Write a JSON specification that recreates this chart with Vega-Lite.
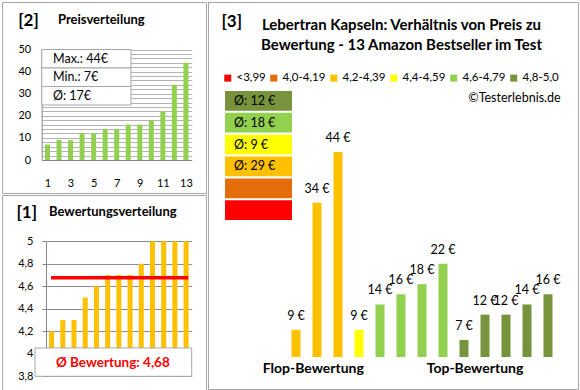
{
  "$schema": "https://vega.github.io/schema/vega-lite/v6.json",
  "padding": {"left": 1, "top": 1, "right": 0, "bottom": 0},
  "background": "white",
  "config": {
    "font": "Lato",
    "locale": {"number": {"decimal": ",", "thousands": ".", "grouping": [3], "currency": ["", "\u00a0€"]}},
    "view": {"stroke": "#a6a6a6", "strokeWidth": 1},
    "scale": {"continuousPadding": 0},
    "axis": {"labelFont": "Lato", "titleFont": "Lato", "labelColor": "#000000", "titleColor": "#000000", "labelFontSize": 11},
    "title": {"color": "#000000", "font": "Lato"},
    "legend": {"labelFont": "Lato"},
    "text": {"font": "Lato", "color": "#000000"}
  },
  "datasets": {
    "preise": [
      {"nr": 1, "preis": 7}, {"nr": 2, "preis": 9}, {"nr": 3, "preis": 9}, {"nr": 4, "preis": 12},
      {"nr": 5, "preis": 12}, {"nr": 6, "preis": 14}, {"nr": 7, "preis": 14}, {"nr": 8, "preis": 16},
      {"nr": 9, "preis": 16}, {"nr": 10, "preis": 18}, {"nr": 11, "preis": 22}, {"nr": 12, "preis": 34},
      {"nr": 13, "preis": 44}
    ],
    "bewertungen": [
      {"nr": 1, "bewertung": 4.2}, {"nr": 2, "bewertung": 4.3}, {"nr": 3, "bewertung": 4.3}, {"nr": 4, "bewertung": 4.5},
      {"nr": 5, "bewertung": 4.6}, {"nr": 6, "bewertung": 4.7}, {"nr": 7, "bewertung": 4.7}, {"nr": 8, "bewertung": 4.7},
      {"nr": 9, "bewertung": 4.8}, {"nr": 10, "bewertung": 5.0}, {"nr": 11, "bewertung": 5.0}, {"nr": 12, "bewertung": 5.0},
      {"nr": 13, "bewertung": 5.0}
    ],
    "produkte": [
      {"nr": 1, "preis": 9, "bewertung": 4.2, "klasse": "4,2-4,39"},
      {"nr": 2, "preis": 34, "bewertung": 4.3, "klasse": "4,2-4,39"},
      {"nr": 3, "preis": 44, "bewertung": 4.3, "klasse": "4,2-4,39"},
      {"nr": 4, "preis": 9, "bewertung": 4.5, "klasse": "4,4-4,59"},
      {"nr": 5, "preis": 14, "bewertung": 4.6, "klasse": "4,6-4,79"},
      {"nr": 6, "preis": 16, "bewertung": 4.7, "klasse": "4,6-4,79"},
      {"nr": 7, "preis": 18, "bewertung": 4.7, "klasse": "4,6-4,79"},
      {"nr": 8, "preis": 22, "bewertung": 4.7, "klasse": "4,6-4,79"},
      {"nr": 9, "preis": 7, "bewertung": 4.8, "klasse": "4,8-5,0"},
      {"nr": 10, "preis": 12, "bewertung": 5.0, "klasse": "4,8-5,0"},
      {"nr": 11, "preis": 12, "bewertung": 5.0, "klasse": "4,8-5,0"},
      {"nr": 12, "preis": 14, "bewertung": 5.0, "klasse": "4,8-5,0"},
      {"nr": 13, "preis": 16, "bewertung": 5.0, "klasse": "4,8-5,0"}
    ],
    "statistik": [
      {"stat": "max", "text": "Max.: 44€"},
      {"stat": "min", "text": "Min.: 7€"},
      {"stat": "avg", "text": "Ø: 17€"}
    ],
    "schnitt": [{"text": "Ø Bewertung: 4,68"}],
    "klassen": [
      {"klasse": "4,8-5,0", "text": "Ø: 12 €"},
      {"klasse": "4,6-4,79", "text": "Ø: 18 €"},
      {"klasse": "4,4-4,59", "text": "Ø: 9 €"},
      {"klasse": "4,2-4,39", "text": "Ø: 29 €"},
      {"klasse": "4,0-4,19", "text": ""},
      {"klasse": "<3,99", "text": ""}
    ],
    "quelle": [{"text": "©Testerlebnis.de"}]
  },
  "spacing": 0,
  "resolve": {"scale": {"color": "independent"}, "legend": {"color": "independent"}},
  "hconcat": [
    {
      "spacing": 0,
      "vconcat": [
        {
          "width": 204,
          "height": 191,
          "title": {"text": "Preisverteilung", "anchor": "start", "frame": "group", "dx": 56, "offset": -25, "fontSize": 13, "fontWeight": "bold"},
          "resolve": {"scale": {"y": "independent"}},
          "layer": [
            {
              "data": {"name": "preise"},
              "mark": {"type": "bar", "color": "#92D050", "size": 5},
              "encoding": {
                "x": {"field": "nr", "type": "quantitative",
                  "scale": {"domain": [0.5, 13.5], "range": [39.7, 189.7], "nice": false, "zero": false, "padding": 0},
                  "axis": {"orient": "bottom", "offset": -33, "values": [1, 3, 5, 7, 9, 11, 13], "tickCount": 100, "format": "d", "grid": false, "ticks": false, "tickSize": 0,
                    "domainColor": "#868686", "labelPadding": 17, "labelFlush": false, "labelOverlap": false, "title": null}},
                "y": {"field": "preis", "type": "quantitative",
                  "scale": {"domain": [0, 50], "range": [158, 47.5], "nice": false, "zero": false, "padding": 0},
                  "axis": {"orient": "left", "offset": -39.7, "tickCount": 100, "format": "d",
                    "values": [0, 2, 4, 6, 8, 10, 12, 14, 16, 18, 20, 22, 24, 26, 28, 30, 32, 34, 36, 38, 40, 42, 44, 46, 48, 50],
                    "labelExpr": "datum.value % 10 === 0 ? datum.label : ''", "labelOverlap": false,
                    "grid": true, "gridColor": "#b4b4b4", "domainColor": "#868686", "ticks": false, "tickSize": 0, "labelPadding": 11,
                    "title": "[2]", "titleAngle": 0, "titleX": -24, "titleY": 10, "titleAlign": "left", "titleBaseline": "top",
                    "titleFontSize": 17, "titleFontWeight": "bold"}}
              }
            },
            {
              "data": {"name": "statistik"},
              "mark": {"type": "rect", "fill": "white", "stroke": "#a6a6a6", "strokeWidth": 1},
              "encoding": {
                "x": {"datum": 0.5, "type": "quantitative"},
                "x2": {"datum": 8.24},
                "y": {"field": "stat", "type": "nominal", "axis": null,
                  "scale": {"type": "band", "domain": ["max", "min", "avg"], "range": [47.5, 103], "paddingInner": 0, "paddingOuter": 0}}
              }
            },
            {
              "data": {"name": "statistik"},
              "mark": {"type": "text", "align": "left", "baseline": "middle", "fontSize": 12.5},
              "encoding": {
                "x": {"datum": 1.48, "type": "quantitative"},
                "y": {"field": "stat", "type": "nominal", "axis": null,
                  "scale": {"type": "band", "domain": ["max", "min", "avg"], "range": [47.5, 103], "paddingInner": 0, "paddingOuter": 0}},
                "text": {"field": "text"}
              }
            }
          ]
        },
        {
          "width": 204,
          "height": 196,
          "title": {"text": "Bewertungsverteilung", "anchor": "start", "frame": "group", "dx": 47, "offset": -24, "fontSize": 13, "fontWeight": "bold"},
          "layer": [
            {
              "data": {"name": "bewertungen"},
              "mark": {"type": "bar", "color": "#FFC000", "size": 5},
              "encoding": {
                "x": {"field": "nr", "type": "quantitative", "axis": null,
                  "scale": {"domain": [0.5, 13.5], "range": [44, 189.7], "nice": false, "zero": false, "padding": 0}},
                "y": {"field": "bewertung", "type": "quantitative",
                  "scale": {"domain": [3.8, 5], "range": [181.3, 46.3], "nice": false, "zero": false, "padding": 0},
                  "axis": {"orient": "left", "offset": -44, "values": [3.8, 4, 4.2, 4.4, 4.6, 4.8, 5], "tickCount": 100, "format": ".1~f",
                    "grid": true, "gridColor": "#8c8c8c", "domainColor": "#868686", "ticks": true, "tickSize": 4, "tickColor": "#868686",
                    "labelPadding": 9, "labelOverlap": false,
                    "title": "[1]", "titleAngle": 0, "titleX": -30, "titleY": 9, "titleAlign": "left", "titleBaseline": "top",
                    "titleFontSize": 17, "titleFontWeight": "bold"}},
                "y2": {"datum": 3.8}
              }
            },
            {
              "data": {"name": "bewertungen"},
              "transform": [{"aggregate": [{"op": "mean", "field": "bewertung", "as": "schnitt"}]}],
              "mark": {"type": "rule", "color": "#FF0000", "strokeWidth": 3.5},
              "encoding": {
                "x": {"datum": 0.95, "type": "quantitative"},
                "x2": {"datum": 13.2},
                "y": {"field": "schnitt", "type": "quantitative"}
              }
            },
            {
              "data": {"name": "schnitt"},
              "mark": {"type": "rect", "fill": "white", "stroke": "#a6a6a6", "strokeWidth": 1},
              "encoding": {
                "x": {"datum": -0.48, "type": "quantitative"},
                "x2": {"datum": 13.5},
                "y": {"datum": 4.052, "type": "quantitative"},
                "y2": {"datum": 3.8}
              }
            },
            {
              "data": {"name": "schnitt"},
              "mark": {"type": "text", "align": "center", "baseline": "middle", "fontSize": 13.5, "fontWeight": "bold", "color": "#FF0000"},
              "encoding": {
                "x": {"datum": 6.46, "type": "quantitative"},
                "y": {"datum": 3.918, "type": "quantitative"},
                "text": {"field": "text"}
              }
            }
          ]
        }
      ]
    },
    {
      "width": 370,
      "height": 387,
      "title": {"text": ["Lebertran Kapseln: Verhältnis von Preis zu", "Bewertung - 13 Amazon Bestseller im Test"], "anchor": "middle", "frame": "group", "dx": 8.5, "offset": -51, "fontSize": 15, "fontWeight": "bold", "lineHeight": 20},
      "resolve": {"scale": {"y": "independent"}},
      "layer": [
        {
          "data": {"name": "klassen"},
          "mark": {"type": "rect"},
          "encoding": {
            "x": {"datum": -2.38, "type": "quantitative"},
            "x2": {"datum": 0.81},
            "y": {"field": "klasse", "type": "nominal", "axis": null,
              "scale": {"type": "band", "domain": ["4,8-5,0", "4,6-4,79", "4,4-4,59", "4,2-4,39", "4,0-4,19", "<3,99"], "range": [89, 218], "paddingInner": 0.1, "paddingOuter": 0}},
            "color": {"field": "klasse", "type": "nominal",
              "scale": {"domain": ["<3,99", "4,0-4,19", "4,2-4,39", "4,4-4,59", "4,6-4,79", "4,8-5,0"], "range": ["#FF0000", "#E46C0A", "#FFC000", "#FFFF00", "#92D050", "#77933C"]}}
          }
        },
        {
          "data": {"name": "klassen"},
          "mark": {"type": "text", "align": "left", "baseline": "middle", "fontSize": 12.5},
          "encoding": {
            "x": {"datum": -1.95, "type": "quantitative"},
            "y": {"field": "klasse", "type": "nominal", "axis": null,
              "scale": {"type": "band", "domain": ["4,8-5,0", "4,6-4,79", "4,4-4,59", "4,2-4,39", "4,0-4,19", "<3,99"], "range": [89, 218], "paddingInner": 0.1, "paddingOuter": 0}},
            "text": {"field": "text"}
          }
        },
        {
          "data": {"name": "produkte"},
          "mark": {"type": "bar", "size": 9},
          "encoding": {
            "x": {"field": "nr", "type": "quantitative",
              "scale": {"domain": [1, 13], "range": [88, 340], "nice": false, "zero": false, "padding": 0},
              "axis": {"orient": "bottom", "offset": -32, "values": [1.8, 9.5], "tickCount": 100,
                "labelExpr": "datum.value < 5 ? 'Flop-Bewertung' : 'Top-Bewertung'",
                "labelFontSize": 14, "labelFontWeight": "bold", "labelPadding": 4, "labelFlush": false, "labelOverlap": false,
                "domain": false, "ticks": false, "tickSize": 0, "grid": false,
                "title": "[3]", "titleX": 13, "titleY": -344, "titleAlign": "left", "titleBaseline": "top",
                "titleFontSize": 17, "titleFontWeight": "bold"}},
            "y": {"field": "preis", "type": "quantitative", "axis": null,
              "scale": {"domain": [3.66, 44], "range": [355, 150], "nice": false, "zero": false, "padding": 0}},
            "y2": {"datum": 3.66},
            "color": {"field": "klasse", "type": "nominal",
              "scale": {"domain": ["<3,99", "4,0-4,19", "4,2-4,39", "4,4-4,59", "4,6-4,79", "4,8-5,0"], "range": ["#FF0000", "#E46C0A", "#FFC000", "#FFFF00", "#92D050", "#77933C"]},
              "legend": {"orient": "none", "legendX": 14, "legendY": 70, "direction": "horizontal", "title": null, "gridAlign": "each",
                "symbolType": "square", "symbolSize": 49, "symbolStrokeWidth": 0, "labelFontSize": 11.5, "labelColor": "#000000",
                "labelOffset": 3, "columnPadding": 2, "padding": 0}}
          }
        },
        {
          "data": {"name": "produkte"},
          "mark": {"type": "text", "align": "center", "baseline": "middle", "dy": -14, "fontSize": 12.5},
          "encoding": {
            "x": {"field": "nr", "type": "quantitative"},
            "y": {"field": "preis", "type": "quantitative", "axis": null,
              "scale": {"domain": [3.66, 44], "range": [355, 150], "nice": false, "zero": false, "padding": 0}},
            "text": {"field": "preis", "type": "quantitative", "format": "$.0f"}
          }
        },
        {
          "data": {"name": "quelle"},
          "mark": {"type": "text", "align": "right", "baseline": "middle", "fontSize": 12.5},
          "encoding": {
            "x": {"datum": 13.6, "type": "quantitative"},
            "y": {"datum": 54.63, "type": "quantitative", "axis": null,
              "scale": {"domain": [3.66, 44], "range": [355, 150], "nice": false, "zero": false, "padding": 0}},
            "text": {"field": "text"}
          }
        }
      ]
    }
  ]
}
